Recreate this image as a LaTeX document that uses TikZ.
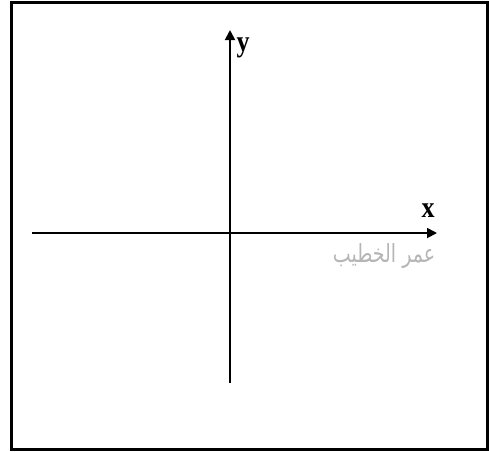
\documentclass[tikz,border=0pt]{standalone}
\usepackage{fontspec}
\setmainfont{Liberation Serif}
\newfontfamily\arabicfont[Script=Arabic]{DejaVu Sans}
\TeXXeTstate=1
\usetikzlibrary{arrows.meta,positioning}
\definecolor{ink}{HTML}{000000}
\definecolor{mark}{HTML}{B5B5B5}

\begin{document}
\begin{tikzpicture}[x=1pt,y=-1pt,
  frame/.style={draw=ink,line width=3pt},
  axis/.style={-{Triangle[length=10pt,width=10pt]},line width=1.8pt,color=ink},
  lbl/.style={font=\fontsize{26}{26}\selectfont\bfseries,inner sep=0pt,yscale=1.15},
  wm/.style={font=\arabicfont\fontsize{20}{20}\selectfont,text=mark,inner sep=0pt,yscale=1.25,xscale=0.95}]
\useasboundingbox (0,0) rectangle (489,451);
\draw[frame] (11.5,2) rectangle (487,449);
% axes
\coordinate (xl) at (32,233);
\coordinate (xr) at (437,233);
\coordinate (yb) at (230,383);
\coordinate (yt) at (230,30);
\draw[axis] (xl) -- (xr);
\draw[axis] (yb) -- (yt);
\node[lbl] (xlab) at (428,211) {x};
\node[lbl] (ylab) at (243,48) {y};
\node[wm] (name) at (384,256) {\beginR عمر الخطيب\endR};
\end{tikzpicture}
\end{document}
